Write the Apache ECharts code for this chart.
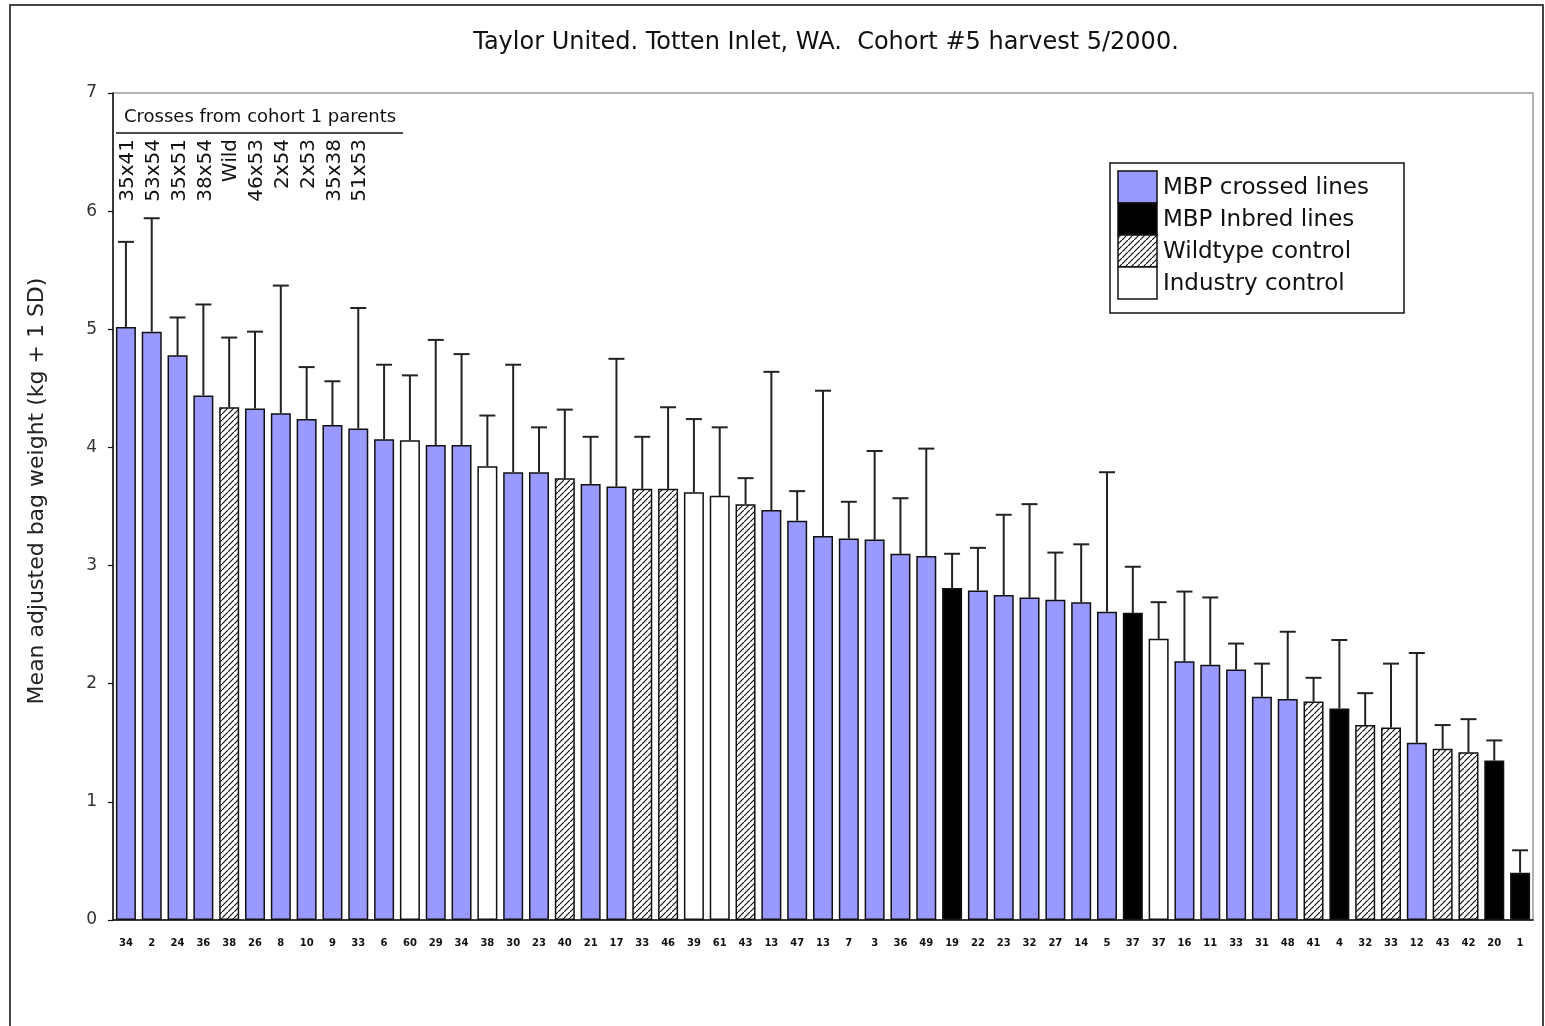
<!DOCTYPE html>
<html>
<head>
<meta charset="utf-8">
<title>Cohort #5 harvest</title>
<script src="https://cdn.jsdelivr.net/npm/echarts@6/dist/echarts.min.js"></script>
<style>
  html, body { margin: 0; padding: 0; background: #fff; }
  #chart { width: 1545px; height: 1026px; }
</style>
</head>
<body>
<div id="chart"></div>
<script>
// Family codes along the x axis, sorted by mean bag weight
const families = ['34','2','24','36','38','26','8','10','9','33','6','60','29','34','38','30','23','40','21','17','33','46','39','61','43','13','47','13','7','3','36','49','19','22','23','32','27','14','5','37','37','16','11','33','31','48','41','4','32','33','12','43','42','20','1'];

// Mean adjusted bag weight (kg)
const means = [5.02,4.98,4.78,4.44,4.34,4.33,4.29,4.24,4.19,4.16,4.07,4.06,4.02,4.02,3.84,3.79,3.79,3.74,3.69,3.67,3.65,3.65,3.62,3.59,3.52,3.47,3.38,3.25,3.23,3.22,3.10,3.08,2.81,2.79,2.75,2.73,2.71,2.69,2.61,2.60,2.38,2.19,2.16,2.12,1.89,1.87,1.85,1.79,1.65,1.63,1.50,1.45,1.42,1.35,0.40];

// One standard deviation (kg)
const sds = [0.72,0.96,0.32,0.77,0.59,0.65,1.08,0.44,0.37,1.02,0.63,0.55,0.89,0.77,0.43,0.91,0.38,0.58,0.40,1.08,0.44,0.69,0.62,0.58,0.22,1.17,0.25,1.23,0.31,0.75,0.47,0.91,0.29,0.36,0.68,0.79,0.40,0.49,1.18,0.39,0.31,0.59,0.57,0.22,0.28,0.57,0.20,0.58,0.27,0.54,0.76,0.20,0.28,0.17,0.19];

// Line type of each family: C = MBP crossed, I = MBP inbred, W = wildtype control, N = industry control
const lineTypes = ['C','C','C','C','W','C','C','C','C','C','C','N','C','C','N','C','C','W','C','C','W','W','N','N','W','C','C','C','C','C','C','C','I','C','C','C','C','C','C','I','N','C','C','C','C','C','W','I','W','W','C','W','W','I','I'];

// Parent crosses for the first ten families
const crossNames = ['35x41','53x54','35x51','38x54','Wild','46x53','2x54','2x53','35x38','51x53'];

const groupKeys = ['C','I','W','N'];
const groupNames = ['MBP crossed lines','MBP Inbred lines','Wildtype control','Industry control'];
const yTicks = [0,1,2,3,4,5,6,7];

const titleText = 'Taylor United. Totten Inlet, WA.  Cohort #5 harvest 5/2000.';
const yTitle = 'Mean adjusted bag weight (kg + 1 SD)';
const crossHeader = 'Crosses from cohort 1 parents';

// Diagonal hatch tile used for wildtype controls
function hatchTile() {
  const s = 6;
  const c = document.createElement('canvas');
  c.width = s; c.height = s;
  const g = c.getContext('2d');
  g.fillStyle = '#fff';
  g.fillRect(0, 0, s, s);
  g.strokeStyle = '#111';
  g.lineWidth = 1.2;
  g.beginPath();
  g.moveTo(-1, s + 1); g.lineTo(s + 1, -1);
  g.moveTo(-s - 1, 1); g.lineTo(1, -s - 1);
  g.moveTo(s - 1, 2 * s + 1); g.lineTo(2 * s + 1, s - 1);
  g.stroke();
  return c;
}
const hatch = { image: hatchTile(), repeat: 'repeat' };

const fills = { C: '#9999ff', I: '#000000', W: hatch, N: '#ffffff' };

const chart = echarts.init(document.getElementById('chart'), null, { renderer: 'canvas' });

const barSeries = groupKeys.map((key, k) => ({
  name: groupNames[k],
  type: 'bar',
  stack: 'all',
  barWidth: 20,
  z: 3,
  itemStyle: { color: fills[key], borderColor: '#111', borderWidth: 1.5 },
  data: means.map((v, i) => lineTypes[i] === key ? v : '-')
}));

const errorSeries = {
  type: 'custom',
  z: 2,
  encode: { x: 0, y: [1, 2] },
  data: means.map((v, i) => [i, v, +(v + sds[i]).toFixed(2)]),
  renderItem: function (params, api) {
    const i = api.value(0);
    const a = api.coord([i, api.value(1)]);
    const b = api.coord([i, api.value(2)]);
    const st = { stroke: '#222', lineWidth: 2 };
    return {
      type: 'group',
      children: [
        { type: 'line', shape: { x1: a[0], y1: a[1], x2: b[0], y2: b[1] }, style: st },
        { type: 'line', shape: { x1: b[0] - 8, y1: b[1], x2: b[0] + 8, y2: b[1] }, style: st }
      ]
    };
  }
};

// Rotated parent-cross names above the first ten bars
const crossSeries = {
  type: 'custom',
  z: 5,
  silent: true,
  data: crossNames.map((n, i) => [i, 7]),
  renderItem: function (params, api) {
    const p = api.coord([api.value(0), api.value(1)]);
    return {
      type: 'text',
      x: p[0] + 2,
      y: p[1] + 46,
      rotation: Math.PI / 2,
      style: {
        text: crossNames[params.dataIndex],
        align: 'right',
        verticalAlign: 'middle',
        font: '20px "DejaVu Sans"',
        fill: '#111'
      }
    };
  }
};

// Legend box drawn as a block of swatches
const legendX = 1110, legendY = 163, rowH = 32;
const legendEls = [
  { type: 'rect', shape: { x: legendX, y: legendY, width: 294, height: 150 },
    style: { fill: '#fff', stroke: '#111', lineWidth: 1.5 }, z: 10 }
];
groupKeys.forEach((key, k) => {
  legendEls.push({ type: 'rect',
    shape: { x: legendX + 8, y: legendY + 8 + k * rowH, width: 39, height: rowH },
    style: { fill: fills[key], stroke: '#111', lineWidth: 1.5 }, z: 11 });
  legendEls.push({ type: 'text', x: legendX + 53, y: legendY + 8 + k * rowH + rowH / 2 + 1,
    style: { text: groupNames[k], font: '23px "DejaVu Sans"', fill: '#111',
      align: 'left', verticalAlign: 'middle' }, z: 11 });
});

chart.setOption({
  animation: false,
  backgroundColor: '#fff',
  grid: {
    left: 113, right: 12, top: 93, bottom: 106,
    show: true, borderColor: '#999', borderWidth: 1.5, backgroundColor: '#fff'
  },
  xAxis: {
    type: 'category',
    data: families,
    boundaryGap: true,
    axisLine: { lineStyle: { color: '#111', width: 1.5 } },
    axisTick: { interval: 0, length: 4, lineStyle: { color: '#111', width: 1.2 } },
    axisLabel: { interval: 0, margin: 18, fontSize: 10, fontWeight: 'bold',
      fontFamily: 'DejaVu Sans', color: '#111' },
    splitLine: { show: false }
  },
  yAxis: {
    type: 'value',
    min: yTicks[0], max: yTicks[yTicks.length - 1], interval: 1,
    axisLine: { show: true, lineStyle: { color: '#111', width: 1.5 } },
    axisTick: { show: true, length: 5, lineStyle: { color: '#111', width: 1.2 } },
    axisLabel: { margin: 16, fontSize: 17, fontFamily: 'DejaVu Sans', color: '#333' },
    splitLine: { show: false }
  },
  series: barSeries.concat([errorSeries, crossSeries]),
  graphic: [
    { type: 'rect', shape: { x: 10, y: 5, width: 1533, height: 1040 },
      style: { fill: null, stroke: '#444', lineWidth: 2 }, silent: true, z: -1 },
    { type: 'text', x: 826, y: 43,
      style: { text: titleText, font: '24px "DejaVu Sans"', fill: '#111',
        align: 'center', verticalAlign: 'middle' } },
    { type: 'text', x: 37, y: 491, rotation: Math.PI / 2,
      style: { text: yTitle, font: '22px "DejaVu Sans"', fill: '#222',
        align: 'center', verticalAlign: 'middle' } },
    { type: 'text', x: 124, y: 117,
      style: { text: crossHeader, font: '18px "DejaVu Sans"', fill: '#111',
        align: 'left', verticalAlign: 'middle' } },
    { type: 'line', shape: { x1: 116, y1: 133, x2: 403, y2: 133 },
      style: { stroke: '#111', lineWidth: 1.5 } }
  ].concat(legendEls)
});
</script>
</body>
</html>
